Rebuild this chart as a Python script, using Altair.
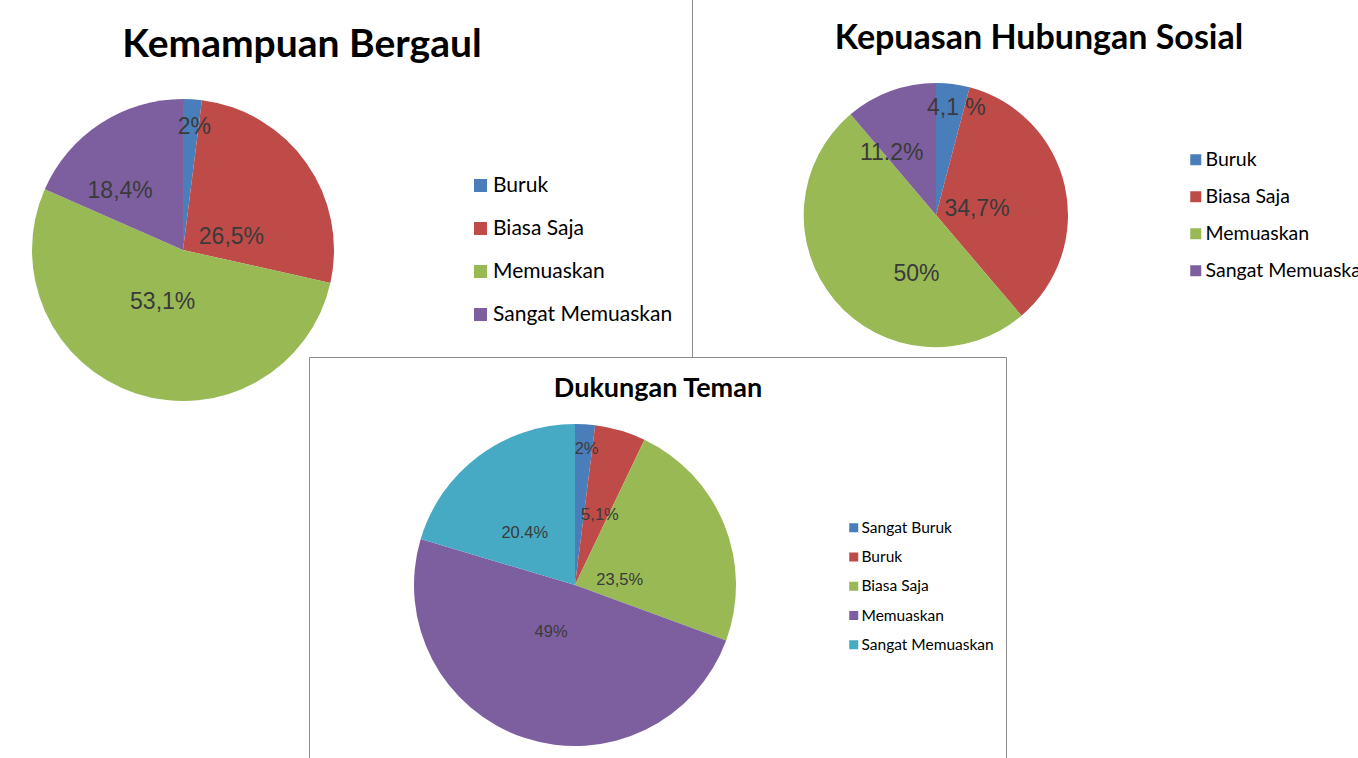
import altair as alt
import pandas as pd

# ---------------- data ----------------
titles = ["Kemampuan Bergaul", "Kepuasan Hubungan Sosial", "Dukungan Teman"]

kb_cat = ["Buruk", "Biasa Saja", "Memuaskan", "Sangat Memuaskan"]
kb_val = [2.0, 26.5, 53.1, 18.4]
kb_lbl = ["2%", "26,5%", "53,1%", "18,4%"]

khs_cat = ["Buruk", "Biasa Saja", "Memuaskan", "Sangat Memuaskan"]
khs_val = [4.1, 34.7, 50.0, 11.2]
khs_lbl = ["4,1 %", "34,7%", "50%", "11.2%"]

dt_cat = ["Sangat Buruk", "Buruk", "Biasa Saja", "Memuaskan", "Sangat Memuaskan"]
dt_val = [2.0, 5.1, 23.5, 49.0, 20.4]
dt_lbl = ["2%", "5,1%", "23,5%", "49%", "20.4%"]

# ---------------- style ----------------
C_BLUE, C_RED, C_GREEN, C_PURPLE, C_TEAL = "#4A7EBB", "#BE4B48", "#98B954", "#7D5FA0", "#46AAC5"
four_colors = [C_BLUE, C_RED, C_GREEN, C_PURPLE]
five_colors = [C_BLUE, C_RED, C_GREEN, C_PURPLE, C_TEAL]

# label placement: distance from pie centre (px) and angular nudge (deg) from slice middle
kb_lr, kb_ln = [124, 50, 56, 86], [1.7, 20.6, 3.1, -13.8]
khs_lr, khs_ln = [109, 41.5, 62, 76], [3.4, 3.8, -31.4, -15.5]
dt_lr, dt_ln = [136, 74, 45, 53, 72], [1.3, 3.3, 15.7, 8.4, -7.5]

LABEL_COLOR = "#3a3a3a"
LINE_COLOR = "#8c8c8c"


def pie(cats, vals, lbls, colors, lr, ln, cx, cy, r, label_size, legend_kw):
    df = pd.DataFrame({"cat": cats, "val": vals, "lbl": lbls,
                       "idx": list(range(len(cats))), "lr": lr, "ln": ln})
    arc = alt.Chart(df).mark_arc(radius=r).encode(
        theta=alt.Theta("val:Q", stack=True),
        order=alt.Order("idx:Q"),
        x=alt.value(cx), y=alt.value(cy),
        color=alt.Color(
            "cat:N",
            sort=cats,
            scale=alt.Scale(domain=cats, range=colors),
            legend=alt.Legend(
                orient="none", title=None, direction="vertical",
                symbolType="square", symbolStrokeWidth=0,
                labelFont="Lato", labelColor="#000000", labelLimit=400,
                padding=0, offset=0, **legend_kw,
            ),
        ),
    )
    txt = alt.Chart(df).transform_window(
        cum="sum(val)", frame=[None, 0], sort=[alt.SortField("idx")]
    ).transform_joinaggregate(
        total="sum(val)"
    ).transform_calculate(
        ang="2*PI*(datum.cum - datum.val/2)/datum.total + datum.ln*PI/180"
    ).mark_text(font="Liberation Sans", fontSize=label_size,
                color=LABEL_COLOR, baseline="middle", align="center").encode(
        x=alt.value(cx), y=alt.value(cy),
        theta=alt.Theta("ang:Q", scale=None),
        radius=alt.Radius("lr:Q", scale=None),
        text="lbl:N",
    )
    return arc, txt


arc1, txt1 = pie(kb_cat, kb_val, kb_lbl, four_colors, kb_lr, kb_ln, 183, 250, 151, 23,
                 dict(legendX=470, legendY=175, symbolSize=169, labelFontSize=21,
                      rowPadding=21, labelOffset=2))
arc2, txt2 = pie(khs_cat, khs_val, khs_lbl, four_colors, khs_lr, khs_ln, 936, 215, 132, 23,
                 dict(legendX=1186, legendY=150, symbolSize=121, labelFontSize=19.5,
                      rowPadding=16, labelOffset=0))
arc3, txt3 = pie(dt_cat, dt_val, dt_lbl, five_colors, dt_lr, dt_ln, 575, 585, 161, 16.5,
                 dict(legendX=846, legendY=520, symbolSize=81, labelFontSize=15.5,
                      rowPadding=12.25, labelOffset=0))


def title_layer(text, x, y, size):
    return alt.Chart(pd.DataFrame({"t": [text]})).mark_text(
        font="Lato", fontWeight="bold", fontSize=size, align="center",
        baseline="alphabetic", color="#000000",
    ).encode(x=alt.value(x), y=alt.value(y), text="t:N")


t1 = title_layer(titles[0], 302, 57, 39)
t2 = title_layer(titles[1], 1039, 49, 34)
t3 = title_layer(titles[2], 658, 397, 27)

frame = pd.DataFrame({"k": [0]})
vline = alt.Chart(frame).mark_rule(color=LINE_COLOR, strokeWidth=1).encode(
    x=alt.value(692.5), y=alt.value(0), y2=alt.value(357)
)
box = alt.Chart(frame).mark_rect(fill="#ffffff", stroke=LINE_COLOR, strokeWidth=1).encode(
    x=alt.value(309.5), x2=alt.value(1006.5), y=alt.value(357.5), y2=alt.value(780)
)

chart = alt.layer(
    vline, arc1, txt1, arc2, txt2, box, arc3, txt3, t1, t2, t3
).resolve_scale(
    color="independent", theta="independent"
).properties(
    width=1358, height=758, autosize=alt.AutoSizeParams(type="none"), padding=0,
    background="#ffffff",
).configure_view(strokeWidth=0)

chart.save("out.html", embed_options={"renderer": "svg", "actions": False})
